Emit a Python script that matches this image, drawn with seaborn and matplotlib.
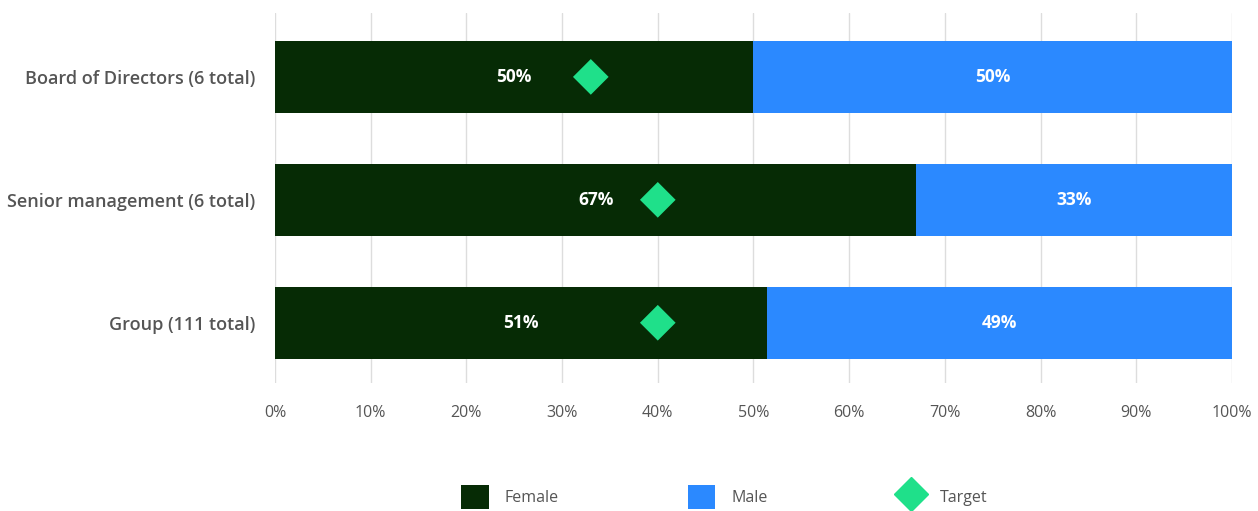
import matplotlib
matplotlib.use("Agg")
import matplotlib.pyplot as plt
import seaborn as sns
import pandas as pd
from matplotlib.patches import Patch
from matplotlib.lines import Line2D

categories = ["Board of Directors (6 total)", "Senior management (6 total)", "Group (111 total)"]
female = [50.0, 67.0, 51.4]
male = [50.0, 33.0, 48.6]
female_labels = ["50%", "67%", "51%"]
male_labels = ["50%", "33%", "49%"]
target = [33.0, 40.0, 40.0]
xticks = [0, 10, 20, 30, 40, 50, 60, 70, 80, 90, 100]
xtick_labels = [f"{t}%" for t in xticks]

FEMALE_C = "#062b05"
MALE_C = "#2b89ff"
TARGET_C = "#1fe08a"
TEXT_C = "#555555"

sns.set_theme(style="white")
plt.rcParams["font.family"] = ["Open Sans", "DejaVu Sans"]

df = pd.DataFrame({"cat": categories, "female": female, "male": male,
                   "total": [f + m for f, m in zip(female, male)], "target": target})

fig = plt.figure(figsize=(12.58, 5.11), dpi=100)
ax = fig.add_axes([0.2186, 0.2505, 0.9793 - 0.2186, 0.9746 - 0.2505])

sns.barplot(data=df, x="total", y="cat", orient="h", color=MALE_C, width=0.585,
            saturation=1, linewidth=0, ax=ax, zorder=2)
sns.barplot(data=df, x="female", y="cat", orient="h", color=FEMALE_C, width=0.585,
            saturation=1, linewidth=0, ax=ax, zorder=3)
sns.scatterplot(data=df, x="target", y="cat", marker="D", s=330, color=TARGET_C,
                edgecolor="none", ax=ax, zorder=4)

for i, (f, m) in enumerate(zip(female, male)):
    ax.text(f / 2, i, female_labels[i], color="white", ha="center", va="center",
            fontsize=12.5, fontweight="bold", zorder=5)
    ax.text(f + m / 2, i, male_labels[i], color="white", ha="center", va="center",
            fontsize=12.5, fontweight="bold", zorder=5)

ax.set_xlim(0, 100)
ax.set_ylim(2.49, -0.52)
ax.set_xticks(xticks)
ax.set_xticklabels(xtick_labels, fontsize=11.5, color=TEXT_C)
ax.tick_params(axis="y", labelsize=13, labelcolor=TEXT_C, length=0, pad=14)
ax.tick_params(axis="x", length=0, pad=16)
for lab in ax.get_yticklabels():
    lab.set_fontweight("semibold")
ax.set_xlabel("")
ax.set_ylabel("")
ax.grid(axis="x", color="#dddddd", linewidth=1, zorder=0)
ax.set_axisbelow(True)
for s in ax.spines.values():
    s.set_visible(False)

handles = [
    Patch(facecolor=FEMALE_C, edgecolor="none", label="Female"),
    Patch(facecolor=MALE_C, edgecolor="none", label="Male"),
    Line2D([0], [0], marker="D", linestyle="none", markersize=17, color=TARGET_C, label="Target"),
]
leg = fig.legend(handles=handles, loc="center", bbox_to_anchor=(0.576, 0.027), ncol=3,
                 frameon=False, fontsize=11.5, handlelength=1.7, handleheight=1.9,
                 columnspacing=8.1, handletextpad=1.0)
for t in leg.get_texts():
    t.set_color(TEXT_C)

fig.savefig("out.png", dpi=100)
